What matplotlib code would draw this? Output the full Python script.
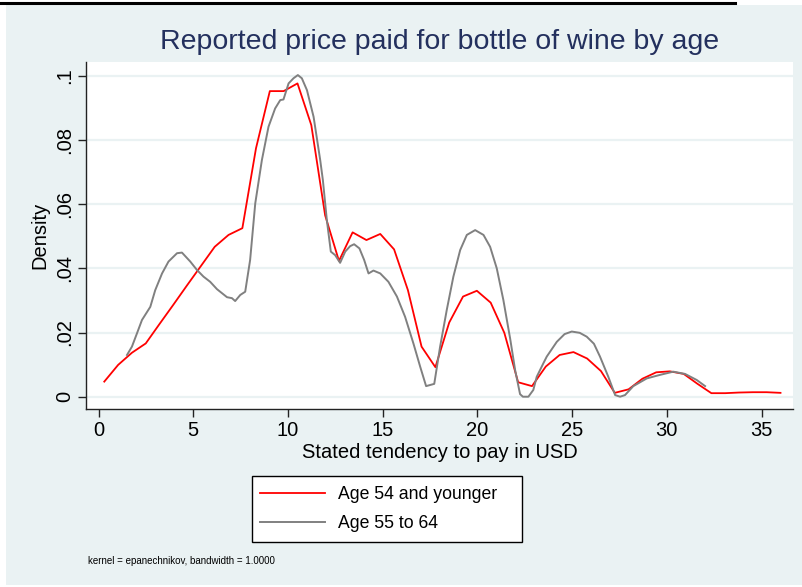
import matplotlib
matplotlib.use("Agg")
import matplotlib.pyplot as plt
from matplotlib.patches import Rectangle
from matplotlib.lines import Line2D
from matplotlib.ticker import FixedLocator

plt.rcParams['font.family'] = ['Liberation Sans', 'DejaVu Sans']

# kernel density, age 54 and younger (50 evaluation points)
young_x = [0.30, 1.03, 1.76, 2.49, 3.21, 3.94, 4.67, 5.40, 6.13, 6.86,
           7.59, 8.31, 9.04, 9.77, 10.50, 11.23, 11.96, 12.69, 13.41, 14.14,
           14.87, 15.60, 16.33, 17.05, 17.78, 18.51, 19.24, 19.97, 20.70, 21.42,
           22.15, 22.88, 23.61, 24.34, 25.07, 25.79, 26.52, 27.25, 27.98, 28.71,
           29.44, 30.16, 30.89, 31.62, 32.35, 33.08, 33.81, 34.54, 35.27, 36.00]
young_y = [0.0047, 0.0099, 0.0137, 0.0166, 0.0226, 0.0286, 0.0347, 0.0407, 0.0467, 0.0504,
           0.0525, 0.0774, 0.0952, 0.0952, 0.0976, 0.0846, 0.0565, 0.0423, 0.0512, 0.0488,
           0.0507, 0.0459, 0.0332, 0.0156, 0.0092, 0.0231, 0.0312, 0.0330, 0.0293, 0.0199,
           0.0045, 0.0033, 0.0094, 0.0130, 0.0139, 0.0119, 0.0080, 0.0012, 0.0023, 0.0056,
           0.0076, 0.0079, 0.0071, 0.0040, 0.0011, 0.0011, 0.0013, 0.0014, 0.0014, 0.0012]

# kernel density, age 55 to 64
older_x = [1.50, 1.76, 2.03, 2.29, 2.73, 2.99, 3.35, 3.69, 4.14, 4.40,
           4.84, 5.19, 5.54, 5.89, 6.25, 6.78, 7.04, 7.21, 7.48, 7.74,
           8.00, 8.27, 8.62, 8.97, 9.32, 9.59, 9.76, 10.03, 10.29, 10.52,
           10.73, 11.00, 11.35, 11.70, 11.84, 12.05, 12.26, 12.49, 12.75, 13.02,
           13.28, 13.49, 13.77, 14.02, 14.25, 14.51, 14.87, 15.30, 15.75, 16.18,
           16.62, 16.98, 17.29, 17.72, 18.03, 18.38, 18.73, 19.09, 19.44, 19.88,
           20.32, 20.67, 21.02, 21.37, 21.73, 21.99, 22.25, 22.40, 22.69, 22.95,
           23.13, 23.48, 23.66, 24.19, 24.60, 24.98, 25.40, 25.77, 26.15, 26.47,
           26.91, 27.27, 27.53, 27.79, 28.23, 28.94, 29.64, 30.34, 30.96, 31.58,
           32.02]
older_y = [0.0130, 0.0156, 0.0198, 0.0239, 0.0280, 0.0332, 0.0384, 0.0421, 0.0447, 0.0449,
           0.0421, 0.0395, 0.0374, 0.0358, 0.0335, 0.0310, 0.0307, 0.0298, 0.0317, 0.0327,
           0.0426, 0.0602, 0.0737, 0.0841, 0.0898, 0.0924, 0.0926, 0.0976, 0.0992, 0.1002,
           0.0992, 0.0955, 0.0872, 0.0737, 0.0675, 0.0550, 0.0452, 0.0441, 0.0417, 0.0452,
           0.0469, 0.0475, 0.0462, 0.0426, 0.0384, 0.0393, 0.0384, 0.0358, 0.0312, 0.0249,
           0.0166, 0.0093, 0.0033, 0.0040, 0.0156, 0.0270, 0.0374, 0.0457, 0.0504, 0.0519,
           0.0504, 0.0467, 0.0400, 0.0301, 0.0180, 0.0083, 0.0008, 0.0000, 0.0000, 0.0021,
           0.0062, 0.0104, 0.0125, 0.0171, 0.0195, 0.0203, 0.0199, 0.0187, 0.0165, 0.0125,
           0.0062, 0.0005, 0.0000, 0.0005, 0.0033, 0.0057, 0.0068, 0.0078, 0.0071, 0.0052,
           0.0033]

x_ticks = [0, 5, 10, 15, 20, 25, 30, 35]
y_ticks = [0, 0.02, 0.04, 0.06, 0.08, 0.1]
y_tick_labels = ['0', '.02', '.04', '.06', '.08', '.1']
series_labels = ['Age 54 and younger', 'Age 55 to 64']

BG = '#EAF2F3'
W, H = 803, 587

fig = plt.figure(figsize=(W / 100, H / 100), dpi=100, facecolor='white')
# stata-like graph region, white strip at top with a rule from the page
fig.patches.append(Rectangle((6 / W, 2 / H), 797 / W, 580 / H, transform=fig.transFigure,
                             facecolor=BG, edgecolor='none', zorder=-5))
fig.add_artist(Line2D([0, 735 / W], [1 - 2.5 / H, 1 - 2.5 / H], color='black', lw=2.2))

ax = fig.add_axes([86 / W, 1 - 409 / H, 707 / W, 347 / H])
ax.set_zorder(2)
ax.set_facecolor('white')
ax.plot(young_x, young_y, color='#FF0000', lw=1.3, label=series_labels[0], zorder=3)
ax.plot(older_x, older_y, color='#808080', lw=1.4, label=series_labels[1], zorder=3)

ax.set_xlim(-0.665, 36.66)
ax.set_ylim(-0.00383, 0.10427)
ax.xaxis.set_major_locator(FixedLocator(x_ticks))
ax.set_yticks(y_ticks)
ax.set_yticklabels(y_tick_labels, rotation=90, va='center')
ax.grid(axis='y', color=BG, lw=1.6)
ax.set_axisbelow(True)
for s in ['top', 'right']:
    ax.spines[s].set_visible(False)
for s in ['left', 'bottom']:
    ax.spines[s].set_color('#222222')
    ax.spines[s].set_linewidth(1.0)
ax.tick_params(direction='out', length=5.5, width=1.0, colors='#222222',
               labelsize=14.5, labelcolor='black', pad=3)

fig.text(40 / W, 1 - 235 / H, 'Density', rotation=90, ha='center', va='center', fontsize=14.5)
fig.text(440 / W, 1 - 453 / H, 'Stated tendency to pay in USD', ha='center', va='center',
         fontsize=14.5)
fig.text(440 / W, 1 - 42 / H, 'Reported price paid for bottle of wine by age', ha='center',
         va='center', fontsize=20.5, color='#23305E')

# legend box drawn separately (stata pads the right side)
fig.patches.append(Rectangle((252 / W, 1 - 542 / H), 270 / W, 66 / H, transform=fig.transFigure,
                             facecolor='white', edgecolor='black', lw=1.0, zorder=3))
handles, labels = ax.get_legend_handles_labels()
leg = fig.legend(handles, labels, loc='center', bbox_to_anchor=(378.5 / W, 1 - 509 / H),
                 fontsize=12.7, frameon=False, handlelength=3.7, handletextpad=0.7,
                 labelspacing=0.7, borderpad=0, borderaxespad=0)
leg.set_zorder(4)

fig.text(88 / W, 1 - 561 / H, 'kernel = epanechnikov, bandwidth = 1.0000', ha='left',
         va='center', fontsize=7.0)

fig.savefig('out.png', dpi=100, facecolor=fig.get_facecolor())
